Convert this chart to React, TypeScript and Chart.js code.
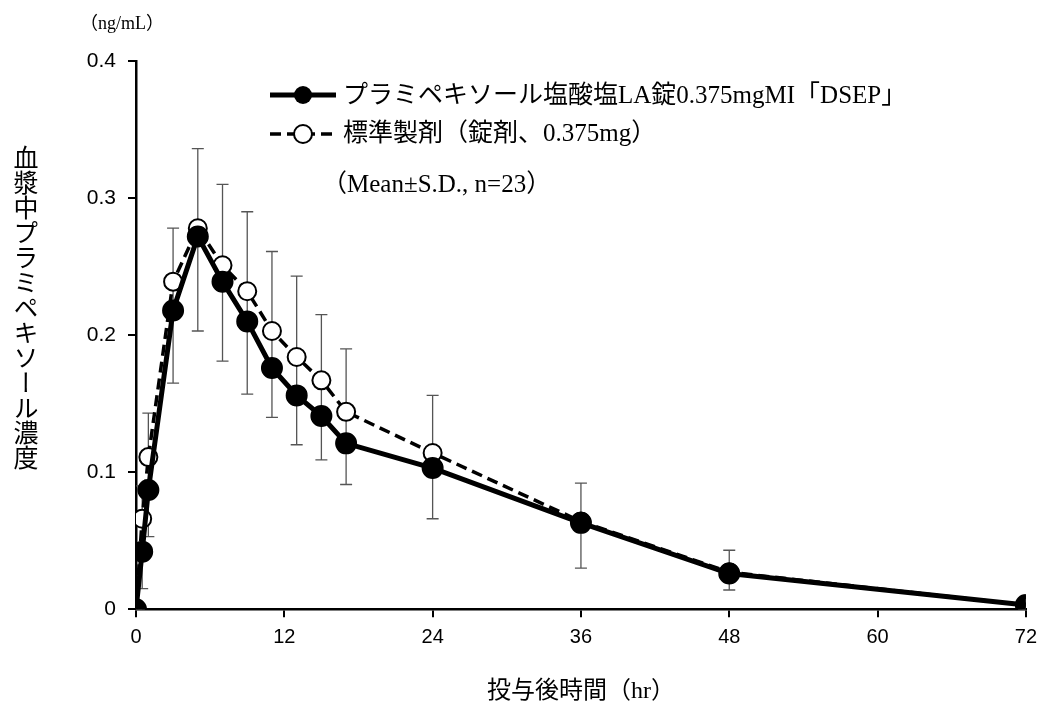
import { Chart, registerables } from "chart.js"
import { useEffect, useRef } from "react"

Chart.register(...registerables)

const times = [0, 0.5, 1, 3, 5, 7, 9, 11, 13, 15, 17, 24, 36, 48, 72]
const testMean = [0, 0.042, 0.087, 0.218, 0.272, 0.239, 0.21, 0.176, 0.156, 0.141, 0.121, 0.103, 0.063, 0.026, 0.003]
const refMean = [0, 0.066, 0.111, 0.239, 0.278, 0.251, 0.232, 0.203, 0.184, 0.167, 0.144, 0.114, 0.064, 0.027, 0.003]
const errHigh = [0, 0.09, 0.143, 0.278, 0.336, 0.31, 0.29, 0.261, 0.243, 0.215, 0.19, 0.156, 0.092, 0.043, 0.005]
const errLow = [0, 0.015, 0.053, 0.165, 0.203, 0.181, 0.157, 0.14, 0.12, 0.109, 0.091, 0.066, 0.03, 0.014, 0.001]
const seriesLabels = ["プラミペキソール塩酸塩LA錠0.375mgMI「DSEP」", "標準製剤（錠剤、0.375mg）"]
const noteText = "（Mean±S.D., n=23）"
const yTitle = "血漿中プラミペキソール濃度"
const xTitle = "投与後時間（hr）"
const unitText = "（ng/mL）"

const serif = "'Liberation Serif', 'Noto Sans CJK JP', serif"
const sans = "'Liberation Sans', sans-serif"

const errorBars = {
  id: "errorBars",
  beforeDatasetsDraw(chart: any) {
    const { ctx, scales } = chart
    ctx.save()
    ctx.strokeStyle = "#555"
    ctx.lineWidth = 1.3
    times.forEach((t, i) => {
      if (errHigh[i] - errLow[i] < 0.006) return
      const x = scales.x.getPixelForValue(t)
      const y1 = scales.y.getPixelForValue(errHigh[i])
      const y2 = scales.y.getPixelForValue(errLow[i])
      ctx.beginPath()
      ctx.moveTo(x, y1); ctx.lineTo(x, y2)
      ctx.moveTo(x - 6, y1); ctx.lineTo(x + 6, y1)
      ctx.moveTo(x - 6, y2); ctx.lineTo(x + 6, y2)
      ctx.stroke()
    })
    ctx.restore()
  },
}

const legendPlugin = {
  id: "customLegend",
  afterDraw(chart: any) {
    const ctx = chart.ctx
    ctx.save()
    ctx.fillStyle = "#000"
    ctx.strokeStyle = "#000"
    ctx.font = `25px ${serif}`
    ctx.textBaseline = "middle"
    ctx.lineWidth = 5
    ctx.beginPath(); ctx.moveTo(270, 95); ctx.lineTo(336, 95); ctx.stroke()
    ctx.beginPath(); ctx.arc(303, 95, 9, 0, Math.PI * 2); ctx.fill()
    ctx.fillText(seriesLabels[0], 343, 96)
    ctx.lineWidth = 3.5
    ctx.setLineDash([11, 6])
    ctx.beginPath(); ctx.moveTo(270, 134); ctx.lineTo(336, 134); ctx.stroke()
    ctx.setLineDash([])
    ctx.lineWidth = 2
    ctx.fillStyle = "#fff"
    ctx.beginPath(); ctx.arc(303, 134, 9, 0, Math.PI * 2); ctx.fill(); ctx.stroke()
    ctx.fillStyle = "#000"
    ctx.fillText(seriesLabels[1], 343, 134)
    ctx.fillText(noteText, 322, 185)
    ctx.restore()
  },
}

export default function App() {
  const ref = useRef<HTMLCanvasElement>(null)

  useEffect(() => {
    if (!ref.current) return
    const chart = new Chart(ref.current, {
      type: "line",
      data: {
        datasets: [
          {
            label: seriesLabels[1],
            order: 1,
            data: times.map((t, i) => ({ x: t, y: refMean[i] })),
            borderColor: "#000",
            borderWidth: 3.5,
            borderDash: [11, 6],
            pointRadius: 9,
            pointBackgroundColor: "#fff",
            pointBorderColor: "#000",
            pointBorderWidth: 2,
          },
          {
            label: seriesLabels[0],
            order: 0,
            data: times.map((t, i) => ({ x: t, y: testMean[i] })),
            borderColor: "#000",
            borderWidth: 5,
            pointRadius: 8.5,
            pointBackgroundColor: "#000",
            pointBorderColor: "#000",
          },
        ],
      },
      options: {
        animation: false,
        responsive: false,
        layout: { padding: { top: 61, right: 18, bottom: 0, left: 0 } },
        plugins: {
          legend: { display: false },
          tooltip: { enabled: false },
        },
        scales: {
          x: {
            type: "linear",
            min: 0,
            max: 72,
            ticks: { stepSize: 12, color: "#000", font: { size: 20, family: sans }, padding: 8 },
            grid: { drawOnChartArea: false, tickLength: 8, color: "#000", lineWidth: 2 },
            border: { color: "#000", width: 2.5 },
            title: { display: true, text: xTitle, color: "#000", font: { size: 24, family: serif }, padding: { top: 20 } },
          },
          y: {
            min: 0,
            max: 0.4,
            afterFit: (s: any) => { s.width = 136 },
            ticks: { stepSize: 0.1, color: "#000", font: { size: 21, family: sans }, padding: 12,
              callback: (v: any) => (v === 0 ? "0" : Number(v).toFixed(1)) },
            grid: { drawOnChartArea: false, tickLength: 8, color: "#000", lineWidth: 2 },
            border: { color: "#000", width: 2.5 },
          },
        },
      },
      plugins: [errorBars, legendPlugin],
    })
    return () => chart.destroy()
  }, [])

  return (
    <div style={{ position: "relative", width: 1045, height: 710, margin: -8, background: "#fff" }}>
      <canvas ref={ref} width={1045} height={710} />
      <div style={{ position: "absolute", left: 80, top: 8, fontFamily: serif, fontSize: 18 }}>{unitText}</div>
      <div style={{ position: "absolute", left: 8, top: 145, fontFamily: serif, fontSize: 25, writingMode: "vertical-rl", lineHeight: "30px" }}>{yTitle}</div>
    </div>
  )
}
